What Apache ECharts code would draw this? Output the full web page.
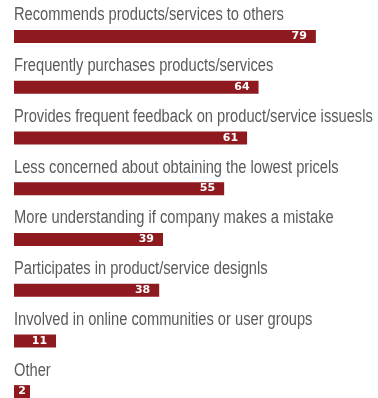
<!DOCTYPE html>
<html>
<head>
<meta charset="utf-8">
<script src="https://cdn.jsdelivr.net/npm/echarts@6/dist/echarts.min.js"></script>
<style>
  html, body { margin: 0; padding: 0; background: #ffffff; }
  #chart { width: 378px; height: 398px; }
</style>
</head>
<body>
<div id="chart"></div>
<script>
// Customer behaviours, listed top to bottom
const categories = [
  'Recommends products/services to others',
  'Frequently purchases products/services',
  'Provides frequent feedback on product/service issuesls',
  'Less concerned about obtaining the lowest pricels',
  'More understanding if company makes a mistake',
  'Participates in product/service designls',
  'Involved in online communities or user groups',
  'Other'
];
const values = [79, 64, 61, 55, 39, 38, 11, 2];

const chart = echarts.init(document.getElementById('chart'), null, { renderer: 'canvas' });

chart.setOption({
  animation: false,
  backgroundColor: '#ffffff',
  grid: {
    left: 14, top: 11, right: 1, height: 406,
    containLabel: false,
    outerBoundsMode: 'none'
  },
  xAxis: {
    type: 'value',
    min: 0,
    max: 95,
    show: false
  },
  yAxis: {
    type: 'category',
    data: categories,
    inverse: true,
    axisLine: { show: false },
    axisTick: { show: false },
    splitLine: { show: false },
    axisLabel: { show: false }
  },
  series: [{
    type: 'bar',
    data: values.map(v => (v < 5 ? { value: v, label: { distance: 4 } } : v)),
    barWidth: 13,
    barMinHeight: 16,
    itemStyle: { color: '#8e1a1f' },
    label: {
      show: true,
      position: 'insideRight',
      distance: 9,
      color: '#ffffff',
      fontFamily: '"DejaVu Sans", sans-serif',
      fontWeight: 'bold',
      fontSize: 11
    }
  }]
});

// Category captions sit above each bar in a narrowed face
const captions = categories.map(function (name) {
  const p = chart.convertToPixel({ gridIndex: 0 }, [0, name]);
  return {
    type: 'text',
    x: p[0],
    y: p[1] - 21,
    scaleX: 0.815,
    silent: true,
    style: {
      text: name,
      fontFamily: '"Liberation Sans", sans-serif',
      fontSize: 18,
      fill: '#5a5a5a',
      textAlign: 'left',
      textVerticalAlign: 'middle'
    }
  };
});
chart.setOption({ graphic: captions });
</script>
</body>
</html>
